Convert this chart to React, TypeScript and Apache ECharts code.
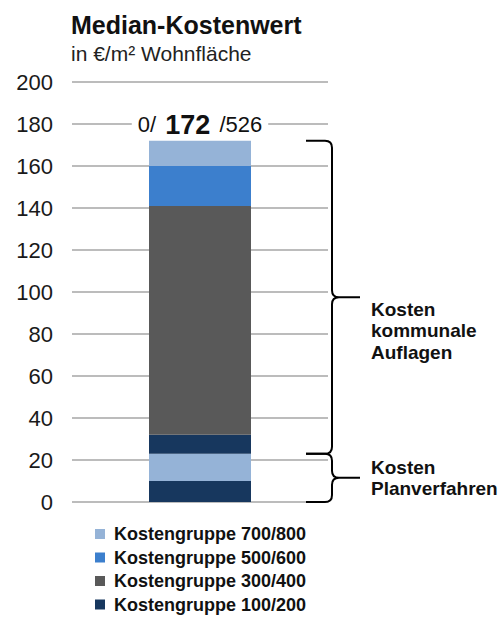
import React, { useEffect, useRef } from "react";
import * as echarts from "echarts";

// ---- data ----
const categories = ["Median"];
const legendNames = [
  "Kostengruppe 700/800",
  "Kostengruppe 500/600",
  "Kostengruppe 300/400",
  "Kostengruppe 100/200",
];
// Kosten Planverfahren (bottom block)
const plan100 = [10];
const plan700 = [13];
// Kosten kommunale Auflagen (upper block)
const komm100 = [9];
const komm300 = [109];
const komm500 = [19];
const komm700 = [12];
const rangeMin = [0];
const medianValue = [172];
const rangeMax = [526];
const yMin = 0;
const yMax = 200;
const yInterval = 20;
const braceLabels = ["Kosten\nkommunale\nAuflagen", "Kosten\nPlanverfahren"];

const colors: Record<string, string> = {
  "Kostengruppe 700/800": "#95b3d7",
  "Kostengruppe 500/600": "#3c7fcd",
  "Kostengruppe 300/400": "#595959",
  "Kostengruppe 100/200": "#17375e",
};

const FONT = "'Liberation Sans', Arial, sans-serif";

let braceRegistered = false;
function registerBrace() {
  if (braceRegistered) return;
  braceRegistered = true;
  const Brace = (echarts.graphic as any).extendShape({
    shape: { x0: 0, xv: 0, xt: 0, y1: 0, ym: 0, y2: 0, r: 7 },
    buildPath(ctx: any, s: any) {
      const r = s.r;
      ctx.moveTo(s.x0, s.y1);
      ctx.lineTo(s.xv - r, s.y1);
      ctx.quadraticCurveTo(s.xv, s.y1, s.xv, s.y1 + r);
      ctx.lineTo(s.xv, s.ym - r);
      ctx.quadraticCurveTo(s.xv, s.ym, s.xv + r, s.ym);
      ctx.lineTo(s.xt, s.ym);
      ctx.moveTo(s.xv + r, s.ym);
      ctx.quadraticCurveTo(s.xv, s.ym, s.xv, s.ym + r);
      ctx.lineTo(s.xv, s.y2 - r);
      ctx.quadraticCurveTo(s.xv, s.y2, s.xv - r, s.y2);
      ctx.lineTo(s.x0, s.y2);
    },
  });
  (echarts.graphic as any).registerShape("brace", Brace);
}

const sum = (arrs: number[][], i: number) => arrs.reduce((a, b) => a + b[i], 0);

export default function App() {
  const ref = useRef<HTMLDivElement>(null);
  useEffect(() => {
    if (!ref.current) return;
    registerBrace();
    const chart = echarts.init(ref.current, null, { renderer: "svg" });

    const mkSeries = (name: string, data: number[], extra: any = {}) => ({
      name,
      type: "bar",
      stack: "total",
      data,
      barWidth: 102,
      itemStyle: { color: colors[name] },
      emphasis: { disabled: true },
      ...extra,
    });

    const gridLeft = 72;
    const gridRight = 174;

    chart.setOption({
      animation: false,
      textStyle: { fontFamily: FONT },
      title: {
        text: "Median-Kostenwert",
        subtext: "in €/m² Wohnfläche",
        left: 71,
        top: 11,
        padding: 0,
        itemGap: 4,
        textStyle: { fontSize: 25, fontWeight: "bold", color: "#111", lineHeight: 27, fontFamily: FONT },
        subtextStyle: { fontSize: 21, color: "#222", lineHeight: 23, fontFamily: FONT },
      },
      legend: {
        orient: "vertical",
        left: 90,
        top: 520,
        height: 120,
        itemWidth: 10,
        itemHeight: 10,
        itemGap: 5.5,
        icon: "rect",
        data: legendNames,
        selectedMode: false,
        textStyle: { fontSize: 18, fontWeight: "bold", color: "#111", lineHeight: 18, padding: [0, 0, 0, 4], fontFamily: FONT },
      },
      grid: { left: gridLeft, right: gridRight, top: 82, bottom: 116 },
      xAxis: {
        type: "category",
        data: categories,
        axisLine: { show: false },
        axisTick: { show: false },
        axisLabel: { show: false },
      },
      yAxis: {
        type: "value",
        min: yMin,
        max: yMax,
        interval: yInterval,
        axisLine: { show: false },
        axisTick: { show: false },
        axisLabel: { fontSize: 22, color: "#1a1a1a", margin: 19, fontFamily: FONT },
        splitLine: { lineStyle: { color: "#a6a6a6", width: 1.5 } },
      },
      series: [
        mkSeries("Kostengruppe 100/200", plan100),
        mkSeries("Kostengruppe 700/800", plan700),
        mkSeries("Kostengruppe 100/200", komm100),
        mkSeries("Kostengruppe 300/400", komm300),
        mkSeries("Kostengruppe 500/600", komm500),
        mkSeries("Kostengruppe 700/800", komm700, {
          label: {
            show: true,
            position: "top",
            distance: 2,
            formatter: () => `{a|${rangeMin[0]}/ }{b|${medianValue[0]}}{a| /${rangeMax[0]}}`,
            backgroundColor: "#fff",
            padding: [0, 6],
            rich: {
              a: { fontSize: 22, color: "#111", fontFamily: FONT, lineHeight: 28 },
              b: { fontSize: 27, fontWeight: "bold", color: "#111", fontFamily: FONT, lineHeight: 28, padding: [0, 3] },
            },
          },
        }),
      ],
    });

    const yPix = (v: number) => chart.convertToPixel({ xAxisIndex: 0, yAxisIndex: 0 }, [0, v])[1];
    const planTop = sum([plan100, plan700], 0);
    const total = sum([plan100, plan700, komm100, komm300, komm500, komm700], 0);
    const width = chart.getWidth();
    const plotRight = width - gridRight;
    const x0 = plotRight - 22;
    const xv = plotRight + 4;
    const xt = plotRight + 32;
    const b1 = { y1: yPix(total), y2: yPix(planTop) };
    const b2 = { y1: yPix(planTop), y2: yPix(0) };
    const m1 = (b1.y1 + b1.y2) / 2;
    const m2 = (b2.y1 + b2.y2) / 2;
    const braceStyle = { stroke: "#000", fill: "none", lineWidth: 2 };
    const textStyle = { fontSize: 19, fontWeight: "bold", fill: "#111", lineHeight: 21.5, fontFamily: FONT };

    chart.setOption({
      graphic: [
        { type: "brace", shape: { x0, xv, xt, y1: b1.y1, ym: m1, y2: b1.y2, r: 7 }, style: braceStyle, silent: true },
        { type: "brace", shape: { x0, xv, xt, y1: b2.y1, ym: m2, y2: b2.y2, r: 7 }, style: braceStyle, silent: true },
        {
          type: "text",
          x: xt + 11,
          y: m1 + 1,
          style: { text: braceLabels[0], ...textStyle, verticalAlign: "top" },
          silent: true,
        },
        {
          type: "text",
          x: xt + 11,
          y: m2,
          style: { text: braceLabels[1], ...textStyle, verticalAlign: "middle" },
          silent: true,
        },
      ],
    });

    return () => chart.dispose();
  }, []);
  return <div ref={ref} style={{ width: 502, height: 618, position: "absolute", left: 0, top: 0 }} />;
}
